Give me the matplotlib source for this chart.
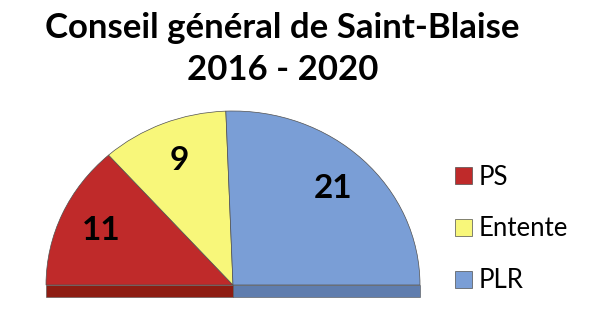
import matplotlib.pyplot as plt

# Données : sièges du Conseil général
partis = ['PS', 'Entente', 'PLR']
sieges = [11, 9, 21]
couleurs = ['#BF2A2A', '#F8F77A', '#7A9ED6']
couleurs_base = ['#8E1C12', '#5F7DAE']

police = 'Lato'
epaisseur = 0.07  # épaisseur du socle (effet 3D)

fig = plt.figure(figsize=(5.94, 3.28), dpi=100)
fig.patch.set_facecolor('white')

# axes placés pour que le demi-cercle tombe au bon endroit
rx_px, ry_px = 187, 174
xmin, xmax = -1.05, 1.05
ymin, ymax = -epaisseur - 0.02, 1.03
x0_px = 233 + xmin * rx_px
y_bas_px = 285 - ymin * ry_px
ax = fig.add_axes([x0_px / 594, (328 - y_bas_px) / 328,
                   (xmax - xmin) * rx_px / 594, (ymax - ymin) * ry_px / 328])

# moitié invisible pour obtenir un demi-disque
valeurs = sieges + [sum(sieges)]
wedges, _, autotexts = ax.pie(valeurs, colors=couleurs + ['none'], startangle=180,
                              counterclock=False, autopct='%1.0f', pctdistance=0.77,
                              wedgeprops=dict(edgecolor='#505050', linewidth=0.5),
                              textprops=dict(fontsize=24, fontweight='bold',
                                             family=police, color='black'))
wedges[-1].set_edgecolor('none')
for t, v in zip(autotexts, sieges + ['']):
    t.set_text(str(v))

# socle sous le demi-disque
ax.bar([-0.5, 0.5], [epaisseur, epaisseur], width=1.0, bottom=-epaisseur,
       color=couleurs_base, edgecolor='#505050', linewidth=0.4, zorder=0)

ax.set_aspect('auto')
ax.set_xlim(xmin, xmax)
ax.set_ylim(ymin, ymax)
ax.axis('off')

# titre
fig.text(282.5 / 594, 1 - 38.5 / 328, 'Conseil général de Saint-Blaise', ha='center',
         va='baseline', fontsize=25, fontweight='bold', family=police)
fig.text(282.5 / 594, 1 - 80 / 328, '2016 - 2020', ha='center',
         va='baseline', fontsize=25, fontweight='bold', family=police)

# légende
fig.legend(wedges[:3], partis, loc='center left', bbox_to_anchor=(455 / 594, 1 - 229 / 328),
           frameon=False, borderpad=0, borderaxespad=0, handlelength=0.66,
           handleheight=0.66, handletextpad=0.27, labelspacing=1.04,
           prop=dict(family=police, size=18.5))

fig.savefig('out.png', dpi=100)
